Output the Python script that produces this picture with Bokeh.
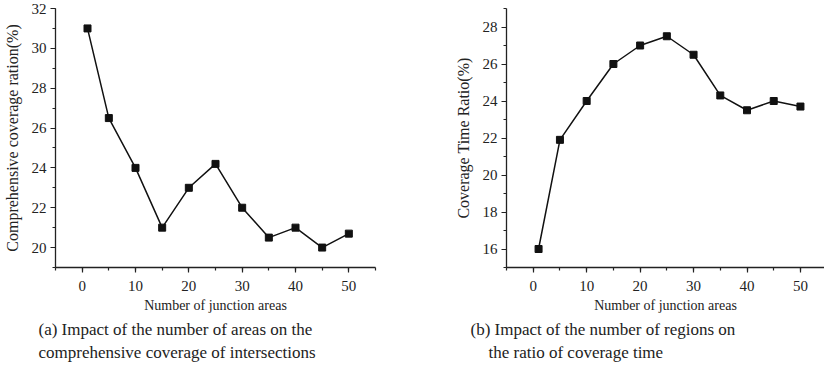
from bokeh.plotting import figure
from bokeh.layouts import row
from bokeh.models import SingleIntervalTicker, Title, Range1d
from bokeh.embed import file_html
from bokeh.resources import INLINE

# data
areas = [1, 5, 10, 15, 20, 25, 30, 35, 40, 45, 50]
coverage_ratio = [31, 26.5, 24, 21, 23, 24.2, 22, 20.5, 21, 20, 20.7]
time_ratio = [16, 21.9, 24, 26, 27, 27.5, 26.5, 24.3, 23.5, 24, 23.7]

x_label = "Number of junction areas"
y_label_a = "Comprehensive coverage ration(%)"
y_label_b = "Coverage Time Ratio(%)"
caption_a = ["(a) Impact of the number of areas on the",
             "comprehensive coverage of intersections"]
caption_b = ["(b) Impact of the number of regions on",
             "the ratio of coverage time"]

SERIF = "Liberation Serif"


def make(x, y, xr, yr, ylab, caps, offsets, width, bl, br):
    p = figure(width=width, height=370, output_backend="svg", toolbar_location=None,
               x_range=Range1d(*xr), y_range=Range1d(*yr),
               min_border_left=bl, min_border_right=br,
               min_border_top=8, min_border_bottom=103)
    p.outline_line_color = None
    p.grid.visible = False
    p.background_fill_color = "white"
    p.border_fill_color = "white"
    p.xaxis.ticker = SingleIntervalTicker(interval=10, num_minor_ticks=2)
    p.yaxis.ticker = SingleIntervalTicker(interval=2, num_minor_ticks=2)
    for ax in (p.xaxis, p.yaxis):
        ax.axis_line_width = 1.3
        ax.axis_line_color = "#222222"
        ax.major_tick_line_color = "#222222"
        ax.minor_tick_line_color = "#222222"
        ax.major_tick_line_width = 1.2
        ax.minor_tick_line_width = 1.2
        ax.major_tick_out = 5
        ax.major_tick_in = 0
        ax.minor_tick_out = 3
        ax.minor_tick_in = 0
        ax.major_label_text_font = SERIF
        ax.major_label_text_font_size = "15px"
        ax.major_label_text_color = "#222222"
        ax.axis_label_text_font = SERIF
        ax.axis_label_text_font_style = "normal"
        ax.axis_label_text_color = "#222222"
    p.xaxis.axis_label = x_label
    p.xaxis.axis_label_text_font_size = "14px"
    p.xaxis.major_label_standoff = 8
    p.xaxis.axis_label_standoff = 4
    p.yaxis.axis_label = ylab
    p.yaxis.axis_label_text_font_size = "16px"
    p.yaxis.major_label_standoff = 4
    p.yaxis.axis_label_standoff = 8
    p.line(x, y, line_color="#111111", line_width=1.5)
    p.scatter(x, y, marker="square", size=7, fill_color="#111111", line_color="#111111")
    for i, (cap, off) in enumerate(zip(caps, offsets)):
        t = Title(text=cap, align="left", offset=off, text_font=SERIF,
                  text_font_size="17px", text_font_style="normal",
                  text_color="#222222", standoff=4 if i == 0 else 0)
        p.add_layout(t, "below")
    return p


pa = make(areas, coverage_ratio, (-5, 55), (19, 32), y_label_a, caption_a,
          (-17, -17), 412, 54, 37)
pb = make(areas, time_ratio, (-5, 54.5), (15, 29), y_label_b, caption_b,
          (-36, -18), 412, 94, 0)

layout = row(pa, pb)
open("out.html", "w").write(file_html(layout, INLINE))
